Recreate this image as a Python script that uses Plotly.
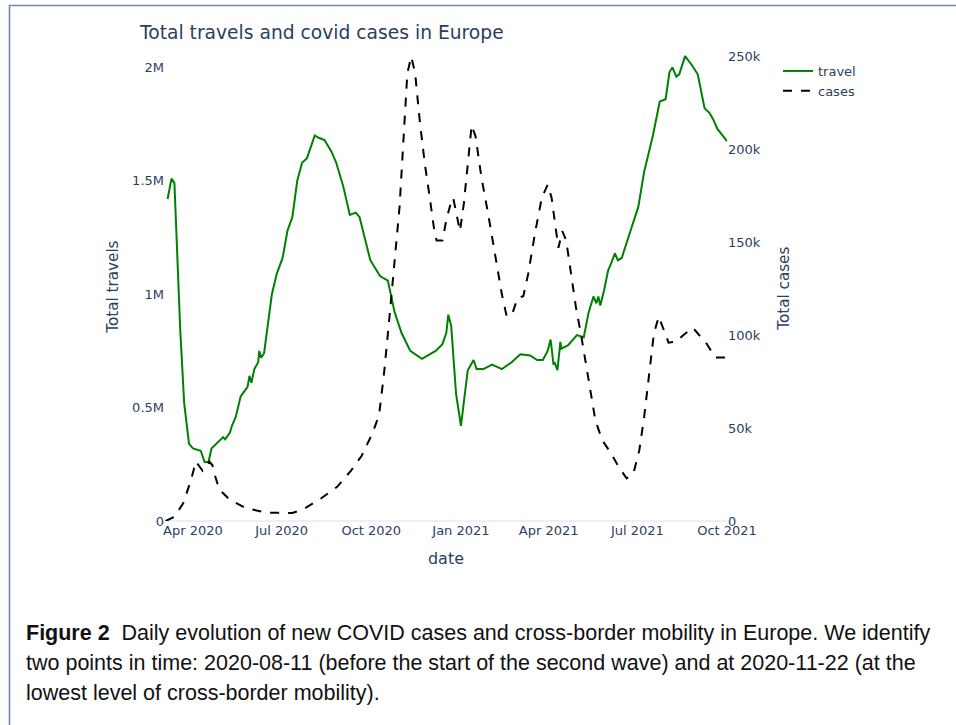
import plotly.graph_objects as go

# ---------------- data ----------------
travel_dates = [
    "2020-03-06", "2020-03-10", "2020-03-13", "2020-03-16", "2020-03-19", "2020-03-23",
    "2020-03-26", "2020-03-28", "2020-04-01", "2020-04-09", "2020-04-13", "2020-04-17",
    "2020-04-20", "2020-04-25", "2020-05-02", "2020-05-04", "2020-05-09", "2020-05-11",
    "2020-05-15", "2020-05-20", "2020-05-24", "2020-05-27", "2020-05-29", "2020-05-31",
    "2020-06-03", "2020-06-07", "2020-06-08", "2020-06-10", "2020-06-13", "2020-06-16",
    "2020-06-21", "2020-06-26", "2020-07-02", "2020-07-07", "2020-07-12", "2020-07-17",
    "2020-07-22", "2020-07-27", "2020-08-04", "2020-08-08", "2020-08-14", "2020-08-21",
    "2020-08-26", "2020-09-02", "2020-09-09", "2020-09-15", "2020-09-19", "2020-09-30",
    "2020-10-10", "2020-10-18", "2020-10-25", "2020-11-01", "2020-11-10", "2020-11-22",
    "2020-12-06", "2020-12-13", "2020-12-17", "2020-12-19", "2020-12-22", "2020-12-27",
    "2021-01-01", "2021-01-08", "2021-01-14", "2021-01-17", "2021-01-24", "2021-02-02",
    "2021-02-12", "2021-02-22", "2021-03-03", "2021-03-13", "2021-03-20", "2021-03-26",
    "2021-03-31", "2021-04-03", "2021-04-06", "2021-04-07", "2021-04-10", "2021-04-13",
    "2021-04-14", "2021-04-21", "2021-04-30", "2021-05-07", "2021-05-12", "2021-05-17",
    "2021-05-20", "2021-05-22", "2021-05-24", "2021-05-28", "2021-06-01", "2021-06-04",
    "2021-06-08", "2021-06-11", "2021-06-15", "2021-06-24", "2021-07-02", "2021-07-08",
    "2021-07-17", "2021-07-24", "2021-07-30", "2021-08-03", "2021-08-06", "2021-08-10",
    "2021-08-13", "2021-08-19", "2021-08-21", "2021-08-26", "2021-09-01", "2021-09-08",
    "2021-09-13", "2021-09-17", "2021-09-21", "2021-09-26", "2021-10-01",
]
travel_values = [
    1420000, 1510000, 1490000, 1140000, 840000, 520000,
    400000, 340000, 320000, 310000, 260000, 260000,
    320000, 340000, 370000, 360000, 390000, 420000,
    460000, 550000, 570000, 590000, 640000, 610000,
    670000, 700000, 750000, 720000, 740000, 840000,
    1000000, 1090000, 1160000, 1280000, 1340000, 1500000,
    1580000, 1600000, 1700000, 1690000, 1680000, 1630000,
    1580000, 1480000, 1350000, 1360000, 1340000, 1150000,
    1080000, 1060000, 920000, 830000, 750000, 715000,
    750000, 780000, 830000, 910000, 860000, 560000,
    420000, 665000, 710000, 670000, 670000, 690000,
    670000, 700000, 735000, 730000, 710000, 710000,
    750000, 800000, 690000, 700000, 665000, 790000,
    760000, 775000, 820000, 810000, 920000, 990000,
    960000, 990000, 950000, 1020000, 1105000, 1135000,
    1180000, 1150000, 1160000, 1280000, 1385000, 1540000,
    1700000, 1850000, 1860000, 1980000, 2000000, 1960000,
    1970000, 2050000, 2040000, 2010000, 1970000, 1820000,
    1800000, 1770000, 1730000, 1700000, 1675000,
]

cases_dates = [
    "2020-03-04", "2020-03-08", "2020-03-13", "2020-03-22", "2020-03-30", "2020-04-04",
    "2020-04-11", "2020-04-18", "2020-04-21", "2020-04-24", "2020-04-28", "2020-05-09",
    "2020-05-26", "2020-06-16", "2020-07-12", "2020-07-24", "2020-08-10", "2020-08-27",
    "2020-09-10", "2020-09-21", "2020-10-02", "2020-10-09", "2020-10-14", "2020-10-19",
    "2020-10-24", "2020-10-30", "2020-11-03", "2020-11-07", "2020-11-11", "2020-11-15",
    "2020-11-20", "2020-11-25", "2020-11-30", "2020-12-05", "2020-12-07", "2020-12-13",
    "2020-12-17", "2020-12-22", "2020-12-24", "2020-12-28", "2020-12-31", "2021-01-04",
    "2021-01-08", "2021-01-12", "2021-01-16", "2021-01-22", "2021-01-29", "2021-02-05",
    "2021-02-12", "2021-02-17", "2021-02-23", "2021-02-28", "2021-03-06", "2021-03-11",
    "2021-03-18", "2021-03-25", "2021-03-31", "2021-04-04", "2021-04-07", "2021-04-11",
    "2021-04-15", "2021-04-19", "2021-04-24", "2021-04-29", "2021-05-04", "2021-05-09",
    "2021-05-14", "2021-05-19", "2021-05-26", "2021-06-04", "2021-06-12", "2021-06-20",
    "2021-06-27", "2021-07-03", "2021-07-08", "2021-07-13", "2021-07-18", "2021-07-23",
    "2021-07-28", "2021-08-02", "2021-08-10", "2021-08-17", "2021-08-27", "2021-09-01",
    "2021-09-10", "2021-09-19", "2021-09-29",
]
cases_values = [
    0, 1000, 2300, 9500, 22000, 32000,
    27000, 32000, 30000, 23800, 17000, 11300,
    6800, 4500, 4300, 6500, 12000, 18400,
    27000, 35000, 47000, 57000, 79000, 106000,
    133000, 169000, 205000, 241000, 250000, 241000,
    214000, 192000, 174000, 155000, 151000, 151000,
    162000, 172000, 174000, 164000, 156000, 171000,
    192000, 213000, 207000, 185000, 165000, 144000,
    122000, 110000, 112000, 120000, 121000, 133000,
    155000, 174000, 181000, 174000, 162000, 147000,
    156000, 151000, 133000, 115000, 101000, 85000,
    69000, 54000, 43500, 36400, 29000, 23000,
    25600, 38000, 56000, 77600, 101000, 110000,
    103000, 96000, 96500, 100000, 104000, 101000,
    95500, 88000, 88000,
]

left_ticks = [0, 500000, 1000000, 1500000, 2000000]
left_ticktext = ["0", "0.5M", "1M", "1.5M", "2M"]
right_ticks = [0, 50000, 100000, 150000, 200000, 250000]
right_ticktext = ["0", "50k", "100k", "150k", "200k", "250k"]

title_text = "Total travels and covid cases in Europe"
left_title = "Total travels"
right_title = "Total cases"
caption_lines = [
    "<b>Figure 2</b>  Daily evolution of new COVID cases and cross-border mobility in Europe. We identify",
    "two points in time: 2020-08-11 (before the start of the second wave) and at 2020-11-22 (at the",
    "lowest level of cross-border mobility).",
]

# ---------------- layout geometry (pixels) ----------------
W, H = 956, 725
PL, PR = 165, 727          # plot area left/right
PT, PB = 45, 521.5         # plot area top/bottom
PW, PH = PR - PL, PB - PT


def px(xp):
    return (xp - PL) / PW


def py(yp):
    return (PB - yp) / PH


left_max = (PB - PT) / 227.0 * 1e6
right_max = (PB - PT) / 93.0 * 5e4

fig = go.Figure()
fig.add_trace(go.Scatter(x=travel_dates, y=travel_values, name="travel", mode="lines",
                         line=dict(color="green", width=2)))
fig.add_trace(go.Scatter(x=cases_dates, y=cases_values, name="cases", mode="lines",
                         line=dict(color="black", width=2, dash="dash"), yaxis="y2"))

fig.update_layout(
    template="plotly_white",
    width=W, height=H,
    margin=dict(l=PL, r=W - PR, t=PT, b=H - PB, autoexpand=False),
    font=dict(family="Verdana, DejaVu Sans, sans-serif", size=13, color="#2a3f5f"),
    title=dict(text=title_text, x=140 / W, xanchor="left", y=1 - 32 / H, yanchor="middle",
               font=dict(size=18.7)),
    xaxis=dict(title=dict(text="date"), type="date", range=["2020-03-03 08:00", "2021-10-01"],
               dtick="M3", tick0="2020-01-01", tickformat="%b %Y", showgrid=False,
               zeroline=False),
    yaxis=dict(range=[0, left_max], tickvals=left_ticks,
               ticktext=left_ticktext, showgrid=False,
               zeroline=True, zerolinecolor="#EBF0F8", zerolinewidth=2),
    yaxis2=dict(overlaying="y", side="right",
                range=[0, right_max], tickvals=right_ticks,
                ticktext=right_ticktext, showgrid=False,
                zeroline=True, zerolinecolor="#EBF0F8", zerolinewidth=2),
    legend=dict(x=px(778), y=py(56), xanchor="left", yanchor="top",
                bgcolor="rgba(0,0,0,0)"),
    showlegend=True,
)

# y-axis titles placed at the reference positions
fig.add_annotation(text=left_title, xref="paper", yref="paper", x=px(113), y=py(288),
                   xanchor="center", yanchor="middle", textangle=-90, showarrow=False,
                   font=dict(size=15.2))
fig.add_annotation(text=right_title, xref="paper", yref="paper", x=px(784), y=py(289),
                   xanchor="center", yanchor="middle", textangle=-90, showarrow=False,
                   font=dict(size=15.2))

# border box around the figure (only the left and top edges are inside the picture)
fig.add_shape(type="rect", xref="paper", yref="paper",
              x0=px(9.5), x1=px(990), y0=py(760), y1=py(5.5),
              line=dict(color="#7189b0", width=1.6), layer="below")

# caption
for i, line in enumerate(caption_lines):
    fig.add_annotation(text=line, xref="paper", yref="paper", x=px(24), y=py(634 + 30 * i),
                       xanchor="left", yanchor="middle", showarrow=False, align="left",
                       font=dict(family="Liberation Sans, Arial, sans-serif", size=21.5,
                                 color="#111111"))

fig.write_html("out.html", config={"displayModeBar": False},
               post_script="document.body.style.margin='0px';document.body.style.padding='0px';")
